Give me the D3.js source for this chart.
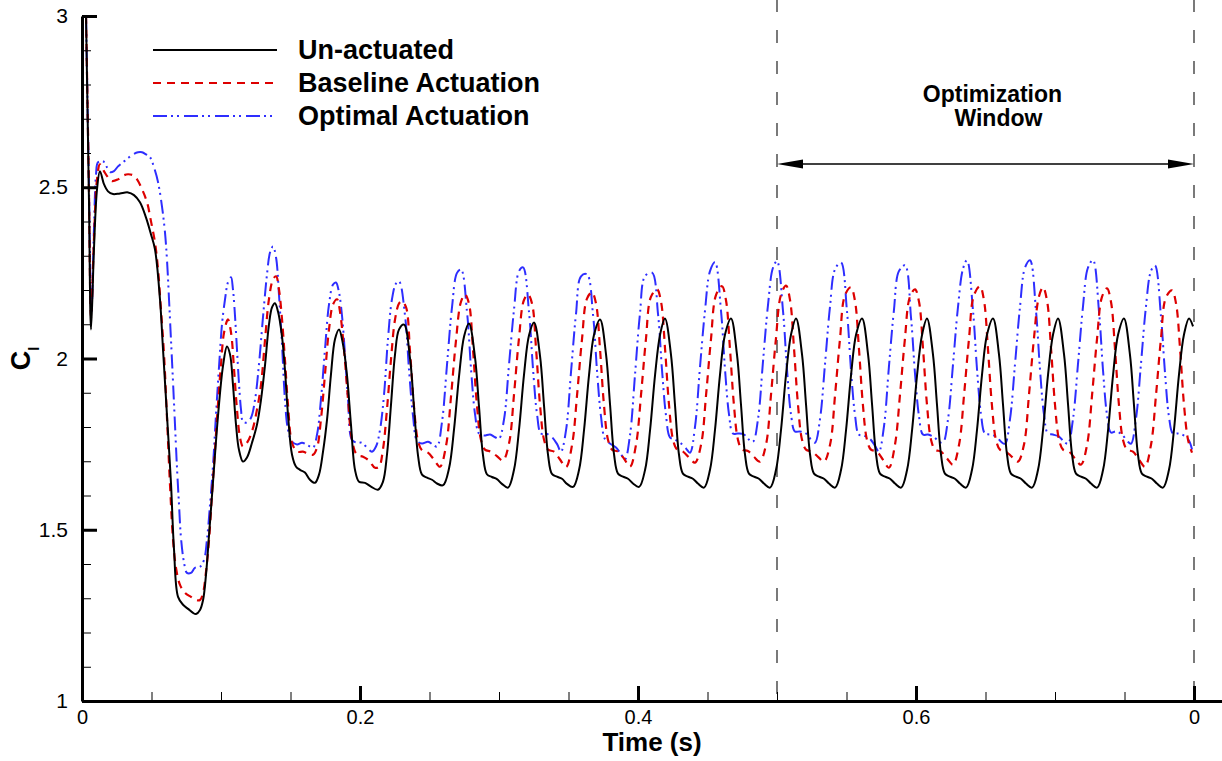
<!DOCTYPE html>
<html>
<head>
<meta charset="utf-8">
<script src="https://cdn.jsdelivr.net/npm/d3@7"></script>
<style>
body { margin: 0; background: #fff; }
text { font-family: "Liberation Sans", Arial, Helvetica, sans-serif; fill: #000; }
</style>
</head>
<body>
<script>
//SVG size
var w = 1222, h = 761;

//tick values and labels (tecplot prints 0.8 as "0" at the right end)
var xMajor = [0, 0.2, 0.4, 0.6, 0.8];
var xTickLabels = ["0", "0.2", "0.4", "0.6", "0"];
var yMajor = [1, 1.5, 2, 2.5, 3];
var yTickLabels = ["1", "1.5", "2", "2.5", "3"];

var seriesNames = ["Un-actuated", "Baseline Actuation", "Optimal Actuation"];
var windowStart = 0.5, windowEnd = 0.8;

//[time (s), Cl]
var unactuated = [
  [0.0029,3.000],[0.0050,2.465],[0.0065,2.085],[0.0086,2.319],[0.0108,2.494],[0.0129,2.547],[0.0158,2.509],[0.0187,2.488],
  [0.0223,2.480],[0.0273,2.482],[0.0331,2.485],[0.0374,2.477],[0.0417,2.456],[0.0460,2.412],[0.0496,2.363],[0.0525,2.319],
  [0.0561,2.173],[0.0583,2.026],[0.0612,1.830],[0.0640,1.637],[0.0662,1.442],[0.0691,1.304],[0.0727,1.281],[0.0763,1.269],
  [0.0799,1.257],[0.0820,1.254],[0.0849,1.266],[0.0871,1.295],[0.0892,1.368],[0.0914,1.485],[0.0942,1.637],[0.0978,1.830],
  [0.1014,1.977],[0.1043,2.035],[0.1065,2.012],[0.1086,1.924],[0.1108,1.807],[0.1129,1.734],[0.1158,1.699],[0.1187,1.711],
  [0.1223,1.754],[0.1259,1.807],[0.1288,1.880],[0.1317,1.982],[0.1345,2.099],[0.1367,2.149],[0.1388,2.161],[0.1410,2.137],
  [0.1439,2.064],[0.1460,1.968],[0.1482,1.836],[0.1511,1.719],[0.1540,1.684],[0.1568,1.675],[0.1604,1.667],[0.1640,1.646],
  [0.1676,1.637],[0.1705,1.661],[0.1734,1.728],[0.1763,1.822],[0.1791,1.953],[0.1820,2.056],[0.1849,2.085],[0.1878,2.041],
  [0.1906,1.953],[0.1935,1.807],[0.1964,1.675],[0.1993,1.640],[0.2036,1.637],[0.2079,1.626],[0.2129,1.617],[0.2165,1.640],
  [0.2194,1.719],[0.2223,1.865],[0.2252,2.012],[0.2281,2.085],
  [0.2317,2.099],[0.2360,2.000],[0.2389,1.855],[0.2418,1.715],[0.2446,1.661],[0.2482,1.652],[0.2518,1.646],[0.2554,1.635],[0.2598,1.630],[0.2641,1.680],[0.2677,1.795],[0.2713,1.950],[0.2749,2.065],
  [0.2784,2.102],[0.2827,2.005],[0.2856,1.860],[0.2885,1.717],[0.2913,1.662],[0.2949,1.654],[0.2985,1.648],[0.3021,1.634],[0.3065,1.623],[0.3108,1.675],[0.3144,1.792],[0.3180,1.953],[0.3216,2.068],
  [0.3252,2.105],[0.3295,2.008],[0.3324,1.862],[0.3353,1.718],[0.3381,1.663],[0.3417,1.655],[0.3453,1.649],[0.3489,1.634],[0.3533,1.625],[0.3576,1.675],[0.3612,1.792],[0.3648,1.953],[0.3684,2.070],
  [0.3727,2.114],[0.3770,2.012],[0.3799,1.865],[0.3828,1.719],[0.3856,1.664],[0.3892,1.655],[0.3928,1.649],[0.3964,1.635],[0.4008,1.625],[0.4051,1.675],[0.4087,1.792],[0.4123,1.953],[0.4159,2.070],
  [0.4194,2.117],[0.4237,2.012],[0.4266,1.865],[0.4295,1.719],[0.4323,1.664],[0.4359,1.655],[0.4395,1.649],[0.4431,1.635],[0.4475,1.623],[0.4518,1.675],[0.4554,1.792],[0.4590,1.953],[0.4626,2.070],
  [0.4669,2.117],[0.4712,2.012],[0.4741,1.865],[0.4770,1.719],[0.4798,1.664],[0.4834,1.655],[0.4870,1.649],[0.4906,1.635],[0.4950,1.623],[0.4993,1.675],[0.5029,1.792],[0.5065,1.953],[0.5101,2.070],
  [0.5137,2.117],[0.5180,2.012],[0.5209,1.865],[0.5238,1.719],[0.5266,1.664],[0.5302,1.655],[0.5338,1.649],[0.5374,1.635],[0.5418,1.623],[0.5461,1.675],[0.5497,1.792],[0.5533,1.953],[0.5569,2.070],
  [0.5612,2.117],[0.5655,2.012],[0.5684,1.865],[0.5713,1.719],[0.5741,1.664],[0.5777,1.655],[0.5813,1.649],[0.5849,1.635],[0.5893,1.623],[0.5936,1.675],[0.5972,1.792],[0.6008,1.953],[0.6044,2.070],
  [0.6079,2.117],[0.6122,2.012],[0.6151,1.865],[0.6180,1.719],[0.6208,1.664],[0.6244,1.655],[0.6280,1.649],[0.6316,1.635],[0.6360,1.623],[0.6403,1.675],[0.6439,1.792],[0.6475,1.953],[0.6511,2.070],
  [0.6554,2.117],[0.6597,2.012],[0.6626,1.865],[0.6655,1.719],[0.6683,1.664],[0.6719,1.655],[0.6755,1.649],[0.6791,1.635],[0.6835,1.623],[0.6878,1.675],[0.6914,1.792],[0.6950,1.953],[0.6986,2.070],
  [0.7022,2.117],[0.7065,2.012],[0.7094,1.865],[0.7123,1.719],[0.7151,1.664],[0.7187,1.655],[0.7223,1.649],[0.7259,1.635],[0.7303,1.623],[0.7346,1.675],[0.7382,1.792],[0.7418,1.953],[0.7454,2.070],
  [0.7496,2.117],[0.7539,2.012],[0.7568,1.865],[0.7597,1.719],[0.7625,1.664],[0.7661,1.655],[0.7697,1.649],[0.7733,1.635],[0.7777,1.623],[0.7820,1.675],[0.7856,1.792],[0.7892,1.953],[0.7928,2.070],
  [0.7964,2.117],[0.7993,2.094]
];

var baseline = [
  [0.0029,3.000],[0.0050,2.494],[0.0065,2.120],[0.0086,2.348],[0.0108,2.523],[0.0129,2.567],[0.0158,2.547],[0.0187,2.529],
  [0.0216,2.518],[0.0259,2.523],[0.0302,2.535],[0.0331,2.538],[0.0367,2.535],[0.0396,2.523],[0.0432,2.494],[0.0468,2.456],
  [0.0496,2.401],[0.0525,2.339],[0.0547,2.260],[0.0568,2.143],[0.0590,2.012],[0.0612,1.822],[0.0633,1.632],[0.0655,1.471],
  [0.0676,1.389],[0.0705,1.339],[0.0741,1.316],[0.0784,1.304],[0.0820,1.295],[0.0849,1.295],[0.0871,1.316],[0.0892,1.377],
  [0.0914,1.471],[0.0935,1.602],[0.0957,1.734],[0.0978,1.865],[0.1000,1.982],[0.1022,2.076],[0.1050,2.114],[0.1072,2.076],
  [0.1094,1.968],[0.1115,1.851],[0.1137,1.769],[0.1158,1.743],[0.1187,1.754],[0.1223,1.787],[0.1259,1.851],[0.1288,1.924],
  [0.1317,2.056],[0.1345,2.173],[0.1374,2.231],[0.1396,2.240],[0.1417,2.202],[0.1439,2.114],[0.1460,1.997],[0.1482,1.865],
  [0.1511,1.754],[0.1547,1.728],[0.1590,1.728],[0.1626,1.722],[0.1662,1.719],[0.1691,1.740],[0.1719,1.822],[0.1748,1.953],
  [0.1777,2.085],[0.1806,2.158],[0.1835,2.173],[0.1856,2.137],[0.1885,2.026],[0.1914,1.880],[0.1942,1.763],[0.1978,1.719],
  [0.2022,1.713],[0.2065,1.702],[0.2108,1.681],[0.2137,1.684],[0.2165,1.734],[0.2194,1.851],[0.2223,1.997],[0.2252,2.114],[0.2281,2.161],
  [0.2302,2.167],[0.2331,2.150],[0.2360,2.020],[0.2388,1.862],[0.2417,1.760],[0.2446,1.732],[0.2489,1.725],[0.2532,1.705],[0.2575,1.684],[0.2619,1.745],[0.2655,1.890],[0.2690,2.050],[0.2726,2.165],
  [0.2755,2.187],[0.2784,2.160],[0.2813,2.026],[0.2841,1.865],[0.2870,1.763],[0.2899,1.734],[0.2942,1.728],[0.2985,1.715],[0.3028,1.702],[0.3072,1.752],[0.3108,1.895],[0.3143,2.056],[0.3179,2.170],
  [0.3209,2.187],[0.3238,2.160],[0.3267,2.026],[0.3295,1.865],[0.3324,1.763],[0.3353,1.734],[0.3396,1.728],[0.3439,1.705],[0.3482,1.683],[0.3526,1.749],[0.3562,1.895],[0.3597,2.056],[0.3633,2.175],
  [0.3669,2.193],[0.3698,2.160],[0.3727,2.026],[0.3755,1.865],[0.3784,1.763],[0.3813,1.734],[0.3856,1.728],[0.3899,1.708],[0.3942,1.684],[0.3986,1.749],[0.4022,1.895],[0.4057,2.056],[0.4093,2.180],
  [0.4137,2.202],[0.4166,2.165],[0.4195,2.026],[0.4223,1.865],[0.4252,1.763],[0.4281,1.734],[0.4324,1.728],[0.4367,1.711],[0.4410,1.696],[0.4454,1.749],[0.4490,1.895],[0.4525,2.056],[0.4561,2.185],
  [0.4604,2.211],[0.4633,2.170],[0.4662,2.026],[0.4690,1.865],[0.4719,1.763],[0.4748,1.734],[0.4791,1.730],[0.4834,1.713],[0.4877,1.699],[0.4921,1.749],[0.4957,1.895],[0.4992,2.056],[0.5028,2.185],
  [0.5065,2.213],[0.5094,2.170],[0.5123,2.026],[0.5151,1.865],[0.5180,1.763],[0.5209,1.734],[0.5252,1.728],[0.5295,1.713],[0.5338,1.699],[0.5382,1.749],[0.5418,1.895],[0.5453,2.056],[0.5489,2.185],
  [0.5532,2.208],[0.5561,2.168],[0.5590,2.026],[0.5618,1.865],[0.5647,1.763],[0.5676,1.734],[0.5719,1.728],[0.5762,1.705],[0.5805,1.681],[0.5849,1.749],[0.5885,1.895],[0.5920,2.056],[0.5956,2.180],
  [0.5993,2.202],[0.6022,2.165],[0.6051,2.026],[0.6079,1.865],[0.6108,1.763],[0.6137,1.734],[0.6180,1.728],[0.6223,1.708],[0.6266,1.690],[0.6310,1.749],[0.6346,1.895],[0.6381,2.056],[0.6417,2.185],
  [0.6460,2.211],[0.6489,2.170],[0.6518,2.026],[0.6546,1.865],[0.6575,1.763],[0.6604,1.734],[0.6647,1.728],[0.6690,1.713],[0.6733,1.699],[0.6777,1.749],[0.6813,1.895],[0.6848,2.056],[0.6884,2.180],
  [0.6914,2.208],[0.6943,2.168],[0.6972,2.026],[0.7000,1.865],[0.7029,1.763],[0.7058,1.734],[0.7101,1.728],[0.7144,1.708],[0.7187,1.690],[0.7231,1.749],[0.7267,1.895],[0.7302,2.056],[0.7338,2.180],
  [0.7374,2.205],[0.7403,2.165],[0.7432,2.026],[0.7460,1.865],[0.7489,1.763],[0.7518,1.734],[0.7561,1.728],[0.7604,1.705],[0.7647,1.684],[0.7691,1.749],[0.7727,1.895],[0.7762,2.056],[0.7798,2.178],
  [0.7842,2.199],[0.7871,2.160],[0.7900,2.026],[0.7928,1.865],[0.7957,1.763],[0.7986,1.725]
];

var optimal = [
  [0.0029,3.000],[0.0050,2.509],[0.0068,2.135],[0.0086,2.377],[0.0101,2.538],[0.0115,2.573],[0.0151,2.576],[0.0180,2.558],
  [0.0201,2.544],[0.0230,2.547],[0.0259,2.561],[0.0295,2.573],[0.0331,2.585],[0.0367,2.596],[0.0403,2.602],[0.0432,2.602],
  [0.0460,2.596],[0.0489,2.588],[0.0518,2.558],[0.0547,2.515],[0.0576,2.442],[0.0597,2.368],[0.0612,2.284],[0.0626,2.173],
  [0.0640,2.056],[0.0655,1.930],[0.0669,1.807],[0.0683,1.684],[0.0698,1.573],[0.0712,1.477],[0.0734,1.404],[0.0755,1.374],
  [0.0784,1.374],[0.0813,1.389],[0.0849,1.392],[0.0878,1.412],[0.0899,1.471],[0.0921,1.573],[0.0942,1.684],[0.0964,1.836],
  [0.0986,1.977],[0.1007,2.099],[0.1029,2.173],[0.1050,2.222],[0.1072,2.237],[0.1086,2.202],[0.1101,2.123],[0.1115,2.026],
  [0.1129,1.930],[0.1144,1.851],[0.1158,1.816],[0.1187,1.813],[0.1216,1.827],[0.1245,1.880],[0.1273,1.982],[0.1302,2.120],
  [0.1331,2.246],[0.1353,2.310],[0.1374,2.327],[0.1396,2.295],[0.1417,2.187],[0.1439,2.041],[0.1460,1.880],[0.1482,1.792],
  [0.1511,1.757],[0.1547,1.749],[0.1583,1.754],[0.1626,1.746],[0.1662,1.740],[0.1691,1.778],[0.1719,1.880],[0.1748,2.026],
  [0.1777,2.158],[0.1806,2.216],[0.1827,2.222],[0.1849,2.193],[0.1871,2.123],[0.1892,2.012],[0.1914,1.880],[0.1942,1.763],
  [0.1978,1.754],[0.2014,1.754],[0.2050,1.740],[0.2086,1.728],[0.2115,1.743],[0.2144,1.792],[0.2173,1.895],[0.2201,2.056],
  [0.2230,2.173],[0.2259,2.219],
  [0.2281,2.225],[0.2324,2.125],[0.2353,1.965],[0.2382,1.830],[0.2410,1.760],[0.2446,1.752],[0.2490,1.757],[0.2526,1.748],[0.2554,1.743],[0.2590,1.815],[0.2626,1.982],[0.2662,2.150],[0.2698,2.250],
  [0.2727,2.260],[0.2770,2.135],[0.2799,1.968],[0.2828,1.836],[0.2856,1.781],[0.2892,1.775],[0.2936,1.778],[0.2972,1.770],[0.3000,1.766],[0.3036,1.822],[0.3072,1.982],[0.3108,2.143],[0.3144,2.255],
  [0.3173,2.266],[0.3216,2.135],[0.3245,1.968],[0.3274,1.836],[0.3302,1.781],[0.3338,1.781],[0.3382,1.770],[0.3418,1.750],[0.3446,1.728],[0.3482,1.790],[0.3518,1.960],[0.3554,2.130],[0.3590,2.240],
  [0.3633,2.246],[0.3676,2.130],[0.3705,1.965],[0.3734,1.830],[0.3762,1.765],[0.3798,1.752],[0.3842,1.740],[0.3878,1.720],[0.3906,1.705],[0.3942,1.775],[0.3978,1.950],[0.4014,2.130],[0.4050,2.240],
  [0.4101,2.251],[0.4144,2.130],[0.4173,1.965],[0.4202,1.832],[0.4230,1.770],[0.4266,1.763],[0.4310,1.752],[0.4346,1.737],[0.4374,1.725],[0.4410,1.800],[0.4446,1.975],[0.4482,2.140],[0.4518,2.255],
  [0.4554,2.281],[0.4597,2.140],[0.4626,1.968],[0.4655,1.836],[0.4683,1.781],[0.4719,1.781],[0.4763,1.778],[0.4799,1.763],[0.4827,1.757],[0.4863,1.822],[0.4899,1.990],[0.4935,2.155],[0.4971,2.265],
  [0.5000,2.284],[0.5043,2.140],[0.5072,1.968],[0.5101,1.836],[0.5129,1.787],[0.5165,1.787],[0.5209,1.781],[0.5245,1.763],[0.5273,1.754],[0.5309,1.822],[0.5345,1.982],[0.5381,2.150],[0.5417,2.260],
  [0.5460,2.281],[0.5503,2.140],[0.5532,1.968],[0.5561,1.836],[0.5589,1.778],[0.5625,1.775],[0.5669,1.765],[0.5705,1.745],[0.5733,1.728],[0.5769,1.800],[0.5805,1.975],[0.5841,2.140],[0.5877,2.255],
  [0.5921,2.272],[0.5964,2.120],[0.5993,1.955],[0.6022,1.830],[0.6050,1.778],[0.6086,1.778],[0.6130,1.770],[0.6166,1.757],[0.6194,1.754],[0.6230,1.822],[0.6266,1.982],[0.6302,2.150],[0.6338,2.262],
  [0.6367,2.287],[0.6410,2.140],[0.6439,1.968],[0.6468,1.836],[0.6496,1.781],[0.6532,1.778],[0.6576,1.772],[0.6612,1.757],[0.6640,1.751],[0.6676,1.822],[0.6712,1.982],[0.6748,2.150],[0.6784,2.265],
  [0.6820,2.287],[0.6863,2.140],[0.6892,1.968],[0.6921,1.836],[0.6949,1.781],[0.6985,1.778],[0.7029,1.772],[0.7065,1.757],[0.7093,1.751],[0.7129,1.822],[0.7165,1.982],[0.7201,2.150],[0.7237,2.265],
  [0.7273,2.287],[0.7316,2.140],[0.7345,1.968],[0.7374,1.836],[0.7402,1.784],[0.7438,1.787],[0.7482,1.778],[0.7518,1.760],[0.7546,1.751],[0.7582,1.822],[0.7618,1.982],[0.7654,2.150],[0.7690,2.255],
  [0.7719,2.272],[0.7762,2.125],[0.7791,1.960],[0.7820,1.830],[0.7848,1.781],[0.7884,1.781],[0.7928,1.775],[0.7964,1.760],[0.7986,1.734]
];

var seriesData = [unactuated, baseline, optimal];
var seriesColor = ["#000000", "#dd0000", "#2e2eff"];
var seriesDash = ["none", "8,6", "14,4,2,4,2,5"];
var seriesWidth = [2, 2.2, 2];

var svg = d3.select("body")
    .append("svg")
    .attr("width", w)
    .attr("height", h);

//scales: left axis at 82px, 1390px per 1 s; 342.5px per unit Cl
var x = d3.scaleLinear()
    .domain([0, 0.821])
    .range([82, 82 + 0.821 * 1390]);

var y = d3.scaleLinear()
    .domain([1, 3])
    .range([701, 16]);

svg.append("clipPath")
    .attr("id", "plotClip")
    .append("rect")
    .attr("x", x(0))
    .attr("y", y(3))
    .attr("width", x(0.821) - x(0))
    .attr("height", y(1) - y(3));

//dashed optimization window bounds
svg.selectAll(".winLine")
    .data([windowStart, windowEnd])
    .enter()
    .append("line")
    .attr("class", "winLine")
    .attr("x1", function(d){ return x(d); })
    .attr("x2", function(d){ return x(d); })
    .attr("y1", y(3.05))
    .attr("y2", y(1))
    .style("stroke", "#222")
    .style("stroke-width", 1.2)
    .style("stroke-dasharray", "13,18");

//curves
var line = d3.line()
    .x(function(d){ return x(d[0]); })
    .y(function(d){ return y(d[1]); })
    .curve(d3.curveCatmullRom.alpha(0.5));

var order = [2, 1, 0]; //optimal drawn first, un-actuated on top
svg.append("g")
    .attr("clip-path", "url(#plotClip)")
    .selectAll("path")
    .data(order)
    .enter()
    .append("path")
    .attr("d", function(i){ return line(seriesData[i]); })
    .style("fill", "none")
    .style("stroke", function(i){ return seriesColor[i]; })
    .style("stroke-width", function(i){ return seriesWidth[i]; })
    .style("stroke-dasharray", function(i){ return seriesDash[i]; })
    .style("stroke-linejoin", "round");

//axes with inward ticks
var xMinor = d3.range(0.05, 0.82, 0.05).filter(function(d){ return Math.abs(d * 5 - Math.round(d * 5)) > 1e-6; });
var yMinor = d3.range(1.1, 3, 0.1).filter(function(d){ return Math.abs(d * 2 - Math.round(d * 2)) > 1e-6; });

var xAxis = d3.axisBottom(x)
    .tickValues(xMajor)
    .tickSizeInner(-15)
    .tickSizeOuter(0)
    .tickPadding(9)
    .tickFormat(function(d, i){ return xTickLabels[i]; });

var gx = svg.append("g")
    .attr("transform", "translate(0," + y(1) + ")")
    .call(xAxis);

var gxMinor = svg.append("g")
    .attr("transform", "translate(0," + y(1) + ")")
    .call(d3.axisBottom(x).tickValues(xMinor).tickSize(-9).tickFormat(""));
gxMinor.select(".domain").remove();

var yAxis = d3.axisLeft(y)
    .tickValues(yMajor)
    .tickSizeInner(-15)
    .tickSizeOuter(0)
    .tickPadding(14)
    .tickFormat(function(d, i){ return yTickLabels[i]; });

var gy = svg.append("g")
    .attr("transform", "translate(" + x(0) + ",0)")
    .call(yAxis);

var gyMinor = svg.append("g")
    .attr("transform", "translate(" + x(0) + ",0)")
    .call(d3.axisLeft(y).tickValues(yMinor).tickSize(-9).tickFormat(""));
gyMinor.select(".domain").remove();

svg.selectAll(".domain").style("stroke", "#000").style("stroke-width", 3);
gx.selectAll(".tick line").style("stroke", "#000").style("stroke-width", 3);
gy.selectAll(".tick line").style("stroke", "#000").style("stroke-width", 3);
gxMinor.selectAll(".tick line").style("stroke", "#000").style("stroke-width", 1);
gyMinor.selectAll(".tick line").style("stroke", "#000").style("stroke-width", 1);

gx.selectAll("text")
    .attr("font-family", "Liberation Sans, Arial, sans-serif")
    .attr("font-size", 20)
    .style("fill", "#000");
gy.selectAll("text")
    .attr("font-family", "Liberation Sans, Arial, sans-serif")
    .attr("font-size", 21)
    .style("fill", "#000");

//axis titles
svg.append("text")
    .attr("x", (x(0) + w) / 2)
    .attr("y", 751)
    .attr("text-anchor", "middle")
    .attr("font-size", 26)
    .attr("font-weight", "bold")
    .text("Time (s)");

var yTitle = svg.append("text")
    .attr("transform", "translate(30," + y(2) + ") rotate(-90)")
    .attr("text-anchor", "middle")
    .attr("font-size", 27)
    .attr("font-weight", "bold");
yTitle.append("tspan").text("C");
yTitle.append("tspan")
    .attr("font-size", 14)
    .attr("dy", 9)
    .text("l");

//legend
var legend = svg.selectAll(".legend")
    .data(seriesNames)
    .enter()
    .append("g")
    .attr("class", "legend")
    .attr("transform", function(d, i){ return "translate(153," + (50 + i * 33) + ")"; });

legend.append("line")
    .attr("x1", 0)
    .attr("x2", 124)
    .style("stroke", function(d, i){ return seriesColor[i]; })
    .style("stroke-width", function(d, i){ return seriesWidth[i]; })
    .style("stroke-dasharray", function(d, i){ return seriesDash[i]; });

legend.append("text")
    .attr("x", 145)
    .attr("y", 8.5)
    .attr("font-size", 27)
    .attr("font-weight", "bold")
    .text(function(d){ return d; });

//optimization window annotation
var arrowCl = 2.568;
var ay = y(arrowCl);
svg.append("line")
    .attr("x1", x(windowStart) + 10)
    .attr("x2", x(windowEnd) - 10)
    .attr("y1", ay)
    .attr("y2", ay)
    .style("stroke", "#000")
    .style("stroke-width", 1.5);

svg.selectAll(".arrowHead")
    .data([[windowStart, 1], [windowEnd, -1]])
    .enter()
    .append("path")
    .attr("class", "arrowHead")
    .attr("d", function(d){
        var tip = x(d[0]), dir = d[1];
        return "M" + tip + "," + ay + "L" + (tip + dir * 26) + "," + (ay - 4.5) +
               "L" + (tip + dir * 26) + "," + (ay + 4.5) + "Z";
    })
    .style("fill", "#000");

var labelX = x(0.655);
svg.append("text")
    .attr("x", labelX)
    .attr("y", 102)
    .attr("text-anchor", "middle")
    .attr("font-size", 23)
    .attr("font-weight", "bold")
    .text("Optimization");
svg.append("text")
    .attr("x", labelX + 6)
    .attr("y", 126)
    .attr("text-anchor", "middle")
    .attr("font-size", 23)
    .attr("font-weight", "bold")
    .text("Window");
</script>
</body>
</html>
